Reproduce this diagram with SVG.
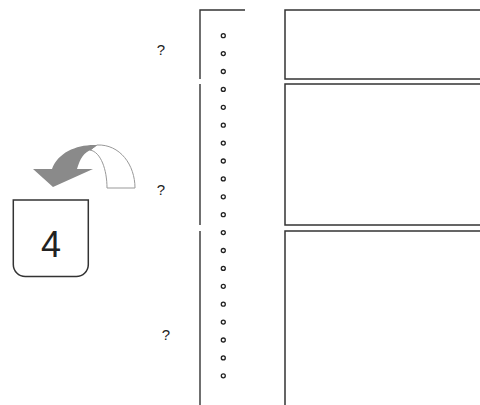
<svg xmlns="http://www.w3.org/2000/svg" width="480" height="405" viewBox="0 0 480 405">
<style>
.ln{stroke:#333;stroke-width:1.4;fill:none}
.box{stroke:#333;stroke-width:1.5;fill:none}
.dot{stroke:#222;stroke-width:1.3;fill:#fff}
.q{font-family:"Liberation Sans",Arial,sans-serif;font-size:15px;fill:#222;text-anchor:middle}
.num{font-family:"Liberation Sans",Arial,sans-serif;font-size:36px;fill:#222;text-anchor:middle}
</style>
<defs>
<circle id="d" r="2" class="dot"/>
</defs>
<rect width="480" height="405" fill="#fff"/>
<g id="bracket">
<path class="ln" d="M245,10 H200 V79"/>
<path class="ln" d="M200,84 V225"/>
<path class="ln" d="M200,231 V405"/>
</g>
<g id="dots">
<use href="#d" x="223.3" y="35.7"/>
<use href="#d" x="223.3" y="53.6"/>
<use href="#d" x="223.3" y="71.5"/>
<use href="#d" x="223.3" y="89.4"/>
<use href="#d" x="223.3" y="107.3"/>
<use href="#d" x="223.3" y="125.2"/>
<use href="#d" x="223.3" y="143.1"/>
<use href="#d" x="223.3" y="161"/>
<use href="#d" x="223.3" y="178.9"/>
<use href="#d" x="223.3" y="196.8"/>
<use href="#d" x="223.3" y="214.7"/>
<use href="#d" x="223.3" y="232.6"/>
<use href="#d" x="223.3" y="250.5"/>
<use href="#d" x="223.3" y="268.4"/>
<use href="#d" x="223.3" y="286.3"/>
<use href="#d" x="223.3" y="304.2"/>
<use href="#d" x="223.3" y="322.1"/>
<use href="#d" x="223.3" y="340"/>
<use href="#d" x="223.3" y="357.9"/>
<use href="#d" x="223.3" y="375.8"/>
</g>
<g id="panel1"><rect class="box" x="285" y="10" width="205" height="69"/></g>
<g id="panel2"><rect class="box" x="285" y="84" width="205" height="141"/></g>
<g id="panel3"><path class="box" d="M285,410 V231 H490"/></g>
<g id="labels">
<text class="q" x="161" y="55">?</text>
<text class="q" x="161" y="195">?</text>
<text class="q" x="166" y="340">?</text>
</g>
<g id="arrow">
<path d="M97,145 C120,144 135,165 135,188 L107,188 C107,170 101,152 90,150 Z" fill="#fff" stroke="#999" stroke-width="1"/>
<path d="M33,169 L53,187 L93,169 L77,169 C80,159 84,152 91,150 L97,145 C78,144 58,152 52,169 Z" fill="#8a8a8a"/>
</g>
<g id="node4">
<path class="box" d="M13.3,200 H88.3 V264.5 A12,12 0 0 1 76.3,276.5 H25.3 A12,12 0 0 1 13.3,264.5 Z"/>
<text class="num" x="51" y="257">4</text>
</g>
</svg>
